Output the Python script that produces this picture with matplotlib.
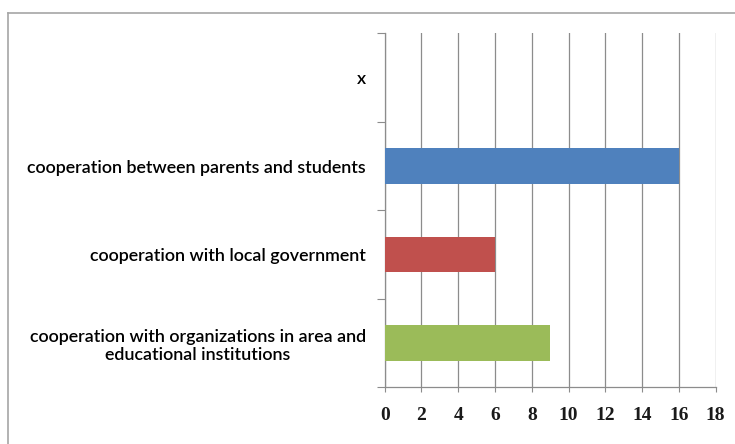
import matplotlib
matplotlib.use("Agg")
import matplotlib.pyplot as plt
from matplotlib.lines import Line2D
from matplotlib.transforms import ScaledTranslation

categories = [
    "cooperation with organizations in area and\neducational institutions",
    "cooperation with local government",
    "cooperation between parents and students",
    "x",
]
values = [9, 6, 16, 0]
colors = ["#9BBB59", "#C0504D", "#4F81BD", "#4F81BD"]
xticks = [0, 2, 4, 6, 8, 10, 12, 14, 16, 18]

grid_gray = "#8C8C8C"

fig = plt.figure(figsize=(7.35, 4.44), dpi=100)
ax = fig.add_axes([0.5234, 0.1277, 0.4503, 0.7973])

ypos = list(range(len(categories)))
ax.barh(ypos, values, height=0.4, color=colors, zorder=3)

ax.set_xlim(0, 18)
ax.set_ylim(-0.5, len(categories) - 0.5)
ax.set_xticks(xticks)
ax.set_xticklabels([str(t) for t in xticks], fontfamily="Liberation Serif",
                   fontsize=14, fontweight="bold", color="#1a1a1a")
ax.set_yticks(ypos)
ax.set_yticklabels(categories, fontfamily="Lato", fontsize=12.9,
                   fontweight="semibold", color="#000000",
                   multialignment="center")
ax.set_yticks([y - 0.5 for y in range(len(categories) + 1)], minor=True)

ax.tick_params(axis="y", which="major", length=0, pad=0)
ax.tick_params(axis="y", which="minor", length=5.5, width=0.8, color=grid_gray,
               direction="out")
ax.tick_params(axis="x", which="major", length=3.5, width=0.8, color=grid_gray,
               direction="out", pad=11)

# center each category label on its own midpoint, right edges aligned at 366 px
fig.canvas.draw()
renderer = fig.canvas.get_renderer()
right_edge_px = 366
ax_left_px = ax.get_position().x0 * fig.bbox.width
for lbl in ax.get_yticklabels():
    w = lbl.get_window_extent(renderer).width
    lbl.set_horizontalalignment("center")
    offset = (right_edge_px - w / 2) - ax_left_px
    lbl.set_transform(ax.get_yaxis_transform() +
                      ScaledTranslation(offset / fig.dpi, 0, fig.dpi_scale_trans))

ax.grid(axis="x", color=grid_gray, linewidth=0.9, zorder=0)
for side in ("top", "right"):
    ax.spines[side].set_visible(False)
for side in ("left", "bottom"):
    ax.spines[side].set_color(grid_gray)
    ax.spines[side].set_linewidth(0.9)

# outer chart frame (top and left edges)
frame_color = "#A6A6A6"
fig.add_artist(Line2D([8 / 735, 1.0], [1 - 13 / 444, 1 - 13 / 444],
                      transform=fig.transFigure, color=frame_color, linewidth=1.2))
fig.add_artist(Line2D([8 / 735, 8 / 735], [0.0, 1 - 13 / 444],
                      transform=fig.transFigure, color=frame_color, linewidth=1.2))

fig.savefig("out.png", dpi=100)
